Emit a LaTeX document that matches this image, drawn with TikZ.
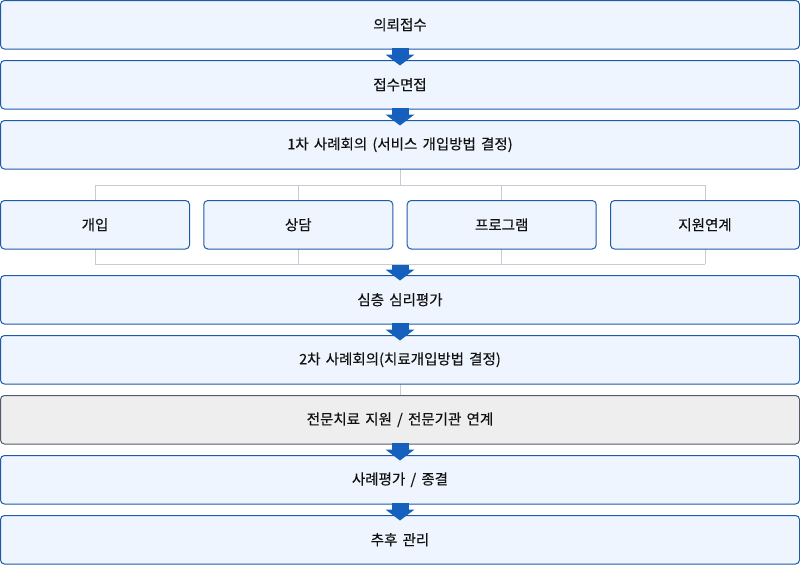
\documentclass[tikz,border=0pt]{standalone}
\usepackage{fontspec}
\setmainfont{Noto Sans CJK KR}[FakeBold=0.35,WordSpace=1.6]
\usepackage{tikz}
\usetikzlibrary{arrows.meta,backgrounds}
\definecolor{stepblue}{RGB}{30,90,170}
\definecolor{stepfill}{RGB}{238,245,254}
\definecolor{arrowblue}{RGB}{21,96,189}
\definecolor{linkgray}{RGB}{200,202,214}
\definecolor{careborder}{RGB}{84,92,108}
\definecolor{carefill}{RGB}{238,238,238}
\definecolor{labelink}{RGB}{17,17,17}

\begin{document}
\begin{tikzpicture}[x=1pt,y=-1pt,
  stagebox/.style={draw=stepblue,fill=stepfill,line width=1pt,rounded corners=4pt,text=labelink,
    minimum height=48.5pt,inner sep=0pt,outer sep=0pt,font=\fontsize{14.5}{16}\selectfont},
  widebox/.style={stagebox,minimum width=799pt},
  smallbox/.style={stagebox,minimum width=189pt},
  flow/.style={arrowblue,line width=17pt,-{Triangle[width=29pt,length=11pt,line width=0pt]}},
  link/.style={linkgray,line width=1pt}]
  \useasboundingbox (0,0) rectangle (800,565);
  \node[widebox] (intake) at (400,24.75) {의뢰접수};
  \node[widebox] (interview) at (400,84.75) {접수면접};
  \node[widebox] (conf1) at (400,144.75) {1차 사례회의 (서비스 개입방법 결정)};
  \foreach \name/\x/\txt in {act/95/개입, counsel/298.3/상담, program/501.7/프로그램, support/705/지원연계} {
    \node[smallbox] (\name) at (\x,224.75) {\txt};
  }
  \node[widebox] (assess) at (400,299.75) {심층 심리평가};
  \node[widebox] (conf2) at (400,359.75) {2차 사례회의(치료개입방법 결정)};
  \node[widebox,draw=careborder,fill=carefill] (care) at (400,419.75) {전문치료 지원 / 전문기관 연계};
  \node[widebox] (review) at (400,479.75) {사례평가 / 종결};
  \node[widebox] (follow) at (400,539.75) {추후 관리};
  % gray links behind the boxes
  \coordinate (split) at (400,185);
  \coordinate (merge) at (400,264.3);
  \begin{scope}[on background layer]
    \draw[link] (conf1.south) -- (split);
    \draw[link] (act.north |- split) -- (support.north |- split);
    \draw[link] (act.south |- merge) -- (support.south |- merge);
    \foreach \name in {act,counsel,program,support} {
      \draw[link] (\name.north |- split) -- (\name.north);
      \draw[link] (\name.south) -- (\name.south |- merge);
    }
    \draw[link] (conf2.south) -- (care.north);
  \end{scope}
  % blue arrows
  \foreach \a/\b in {intake/interview, interview/conf1, assess/conf2, care/review, review/follow} {
    \draw[flow] ([yshift=1pt]\a.south) -- ([yshift=-5pt]\b.north);
  }
  \draw[flow] ([yshift=-0.7pt]merge) -- ([yshift=-5pt]assess.north);
\end{tikzpicture}
\end{document}
